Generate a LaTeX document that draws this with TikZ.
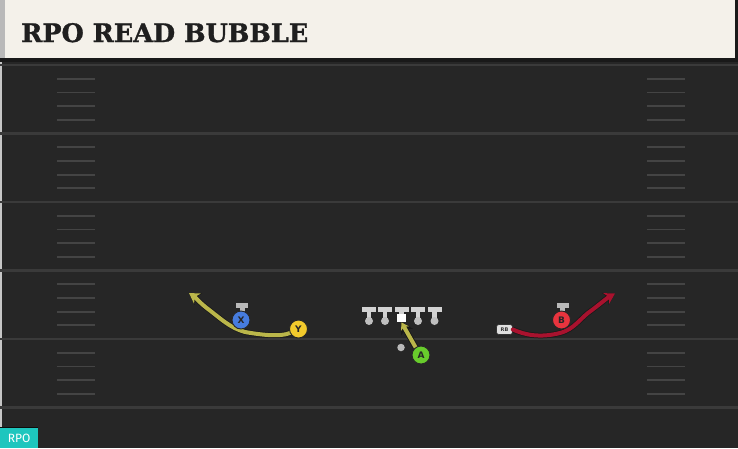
\documentclass[tikz,border=0pt]{standalone}
\usepackage{fontspec}
\setsansfont{DejaVu Sans}
\newfontfamily\titlefont{DejaVu Serif}[BoldFeatures={FakeBold=1.2}]
\newfontfamily\tagfont{Fira Sans}
\usetikzlibrary{arrows.meta, calc, positioning}
\definecolor{field}{RGB}{38,38,38}
\definecolor{yardline}{RGB}{58,58,58}
\definecolor{hashmark}{RGB}{68,68,68}
\definecolor{header}{RGB}{244,241,234}
\definecolor{yroute}{RGB}{186,182,74}
\definecolor{broute}{RGB}{168,18,46}
\definecolor{xblue}{RGB}{70,124,222}
\definecolor{yyellow}{RGB}{242,202,44}
\definecolor{agreen}{RGB}{104,204,44}
\definecolor{bred}{RGB}{232,52,62}
\definecolor{rpotag}{RGB}{30,198,190}

\begin{document}
\begin{tikzpicture}[x=1pt,y=-1pt]

% TikZ styles
\tikzset{
  player/.style={circle, draw=black!85, line width=0.9pt, minimum size=18pt, inner sep=0pt, font=\sffamily\bfseries\small, text=black!85},
  stance/.style={rectangle, fill=gray!55, minimum width=12pt, minimum height=4.5pt, inner sep=0pt},
  linebar/.style={rectangle, fill=gray!35, minimum width=14pt, minimum height=5pt, inner sep=0pt},
  linestem/.style={rectangle, fill=gray!35, minimum width=4.5pt, minimum height=9pt, inner sep=0pt},
  linehead/.style={circle, fill=gray!50, minimum size=8pt, inner sep=0pt},
  route/.style={line width=4pt, line cap=round, -{Stealth[length=10pt,width=12pt,inset=3pt]},
    preaction={draw=black!90, line width=5.5pt, -{Stealth[length=11pt,width=13.5pt,inset=3pt]}}},
  yard/.style={draw=yardline, line width=2.5pt},
  hash/.style={draw=hashmark, line width=1.8pt}
}

\useasboundingbox (0,0) rectangle (738,448);
\fill[field] (0,0) rectangle (738,448);
\draw[gray!45, line width=1.5pt] (1,60) -- (1,448);

%==========================
% Feld: Yardlinien und Hashes
%==========================
\foreach \yl in {65,133.5,202,270.5,339,407.5}{
  \draw[yard] (0,\yl) -- (738,\yl);
}
\foreach \yl in {65,133.5,202,270.5,339}{
  \foreach \k in {1,...,4}{
    \draw[hash] (57,\yl+13.7*\k) -- (95,\yl+13.7*\k);
    \draw[hash] (647,\yl+13.7*\k) -- (685,\yl+13.7*\k);
  }
}

% Kopfzeile
\fill[black!90] (0,0) rectangle (738,62);
\fill[header] (5,0) rectangle (735,58);
\fill[gray!55] (0,0) rectangle (5,58);
\node[anchor=base west, inner sep=0pt, font=\titlefont\bfseries\fontsize{25.5}{26}\selectfont, text=black!88] (title) at (21,42) {RPO READ BUBBLE};

% Offensive Line
\foreach \nm/\xx in {lt/369, lg/385, rg/418, rt/434.5}{
  \node[linebar] (\nm bar) at (\xx,309) {};
  \node[linestem] (\nm stem) at (\xx,315.5) {};
  \node[linehead] (\nm) at (\xx,321) {};
}
\node[linebar] (ctrbar) at (401.5,309) {};
\node[linestem] (ctrstem) at (401.5,313) {};
\node[rectangle, fill=white, minimum size=8.5pt, inner sep=0pt] (ctr) at (401.5,318) {};

% Backfield
\node[circle, fill=gray!55, minimum size=7.5pt, inner sep=0pt] (qb) at (401,347.5) {};
\node[rectangle, rounded corners=2.5pt, fill=gray!25, draw=black!80, line width=0.6pt, minimum width=16pt, minimum height=10pt, inner sep=0pt, font=\sffamily\bfseries\fontsize{5}{5}\selectfont, text=black!80] (rb) at (504.5,329.5) {RB};

% Routen
\coordinate (yend) at (189,293);
\coordinate (bend) at (615,293.5);
\draw[route, draw=yroute] (298.5,329) -- (290,333) .. controls (280,337) and (262,335) .. (245,332)
  .. controls (230,328) and (220,318) .. (208,309) .. controls (200,303) and (195,297) .. (yend);
\draw[route, draw=broute] (rb.east) .. controls (525,335) and (540,338) .. (560,333)
  .. controls (575,329) and (580,318) .. (592,310) .. controls (600,304) and (607,298) .. (bend);
\draw[route, draw=yroute, -{Stealth[length=7pt,width=9pt,inset=2pt]},
  preaction={draw=black!90, line width=5.5pt, -{Stealth[length=8pt,width=10.5pt,inset=2pt]}}] (416,348) -- (ctr.south);

% Receiver
\node[stance] (xstance) at (242,305.5) {};
\node[stance, minimum width=5pt] (xstem) at (242,310) {};
\node[player, fill=xblue] (recvx) at (241,320) {X};
\node[player, fill=yyellow] (recvy) at (298.5,329) {Y};
\node[player, fill=agreen] (backa) at (421,355) {A};
\node[stance] (bstance) at (562.5,305.5) {};
\node[stance, minimum width=5pt] (bstem) at (562.5,310) {};
\node[player, fill=bred] (recvb) at (561.5,320) {B};

% RPO Markierung
\draw[black!95, line width=1pt] (0,427.5) -- (38,427.5);
\node[rectangle, fill=rpotag, anchor=north west, minimum width=38pt, minimum height=20pt, inner sep=0pt, font=\tagfont\fontsize{12}{12}\selectfont, text=white] (rpo) at (0,428) {RPO};

\end{tikzpicture}
\end{document}
